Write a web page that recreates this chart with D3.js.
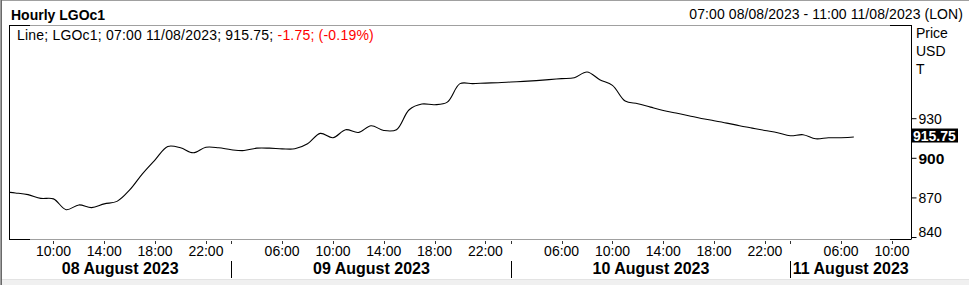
<!DOCTYPE html>
<html>
<head>
<meta charset="utf-8">
<script src="https://cdn.jsdelivr.net/npm/d3@7/dist/d3.min.js"></script>
<style>
  html, body { margin: 0; padding: 0; background: #fff; }
  svg { display: block; }
  text { font-family: "Liberation Sans", Arial, sans-serif; }
</style>
</head>
<body>
<svg id="chart" width="969" height="285"></svg>
<script>
// ---------- data ----------
const title = "Hourly LGOc1";
const rangeLabel = "07:00 08/08/2023 - 11:00 11/08/2023 (LON)";
const legendMain = "Line; LGOc1; 07:00 11/08/2023; 915.75; ";
const legendChange = "-1.75; (-0.19%)";
const unitLabels = ["Price", "USD", "T"];
const lastValue = 915.75;

// trading sessions shown on the axis: day label, first hour, last hour
const sessionDays = ["08 August 2023", "09 August 2023", "10 August 2023", "11 August 2023"];
const sessionDayKeys = ["08/08", "09/08", "10/08", "11/08"];
const sessionFirstHour = [7, 2, 2, 2];
const sessionLastHour = [23, 23, 23, 11];

// hourly price series (time stamp, value)
const priceTimes = [
  "08/08 06:00","08/08 07:00","08/08 08:00","08/08 09:00","08/08 10:00","08/08 11:00","08/08 12:00","08/08 13:00","08/08 14:00",
  "08/08 15:00","08/08 16:00","08/08 17:00","08/08 18:00","08/08 19:00","08/08 20:00","08/08 21:00","08/08 22:00","08/08 23:00",
  "09/08 02:00","09/08 03:00","09/08 04:00","09/08 05:00","09/08 06:00","09/08 07:00","09/08 08:00","09/08 09:00","09/08 10:00",
  "09/08 11:00","09/08 12:00","09/08 13:00","09/08 14:00","09/08 15:00","09/08 16:00","09/08 17:00","09/08 18:00","09/08 19:00",
  "09/08 20:00","09/08 21:00","09/08 22:00","09/08 23:00",
  "10/08 02:00","10/08 03:00","10/08 04:00","10/08 05:00","10/08 06:00","10/08 07:00","10/08 08:00","10/08 09:00","10/08 10:00",
  "10/08 11:00","10/08 12:00","10/08 13:00","10/08 14:00","10/08 15:00","10/08 16:00","10/08 17:00","10/08 18:00","10/08 19:00",
  "10/08 20:00","10/08 21:00","10/08 22:00","10/08 23:00",
  "11/08 02:00","11/08 03:00","11/08 04:00","11/08 05:00","11/08 06:00","11/08 07:00"
];
const priceValues = [
  874.4, 873.4, 872.1, 869.3, 868.9, 860.7, 864.3, 862.3, 865.1,
  867.0, 875.7, 887.9, 898.5, 908.6, 907.6, 903.8, 908.0, 907.6,
  906.1, 905.5, 907.3, 907.3, 906.8, 906.8, 910.6, 918.5, 915.2,
  921.3, 919.2, 924.3, 920.7, 921.3, 936.4, 940.7, 940.2, 942.2,
  956.2, 956.2, 956.6, 956.9,
  957.4, 957.9, 958.5, 959.2, 960.0, 960.7, 965.0, 959.2, 954.9,
  943.0, 941.0, 938.4, 935.9, 933.9, 931.9, 929.8, 928.1, 926.3,
  924.3, 922.5, 920.7, 919.0,
  916.7, 917.5, 914.4, 915.2, 915.2, 915.75
];

// axis tick labels
const hourTicks = ["10:00","14:00","18:00","22:00","06:00","10:00","14:00","18:00","22:00",
                   "06:00","10:00","14:00","18:00","22:00","06:00","10:00"];
const hourTickDays = ["08/08","08/08","08/08","08/08","09/08","09/08","09/08","09/08","09/08",
                      "10/08","10/08","10/08","10/08","10/08","11/08","11/08"];
const yTicks = [840, 870, 900, 930];
const yBoldTick = 900;
const yDomain = [838.5, 1000.6];

// ---------- slot index (only trading hours occupy the axis) ----------
const slotKeys = [];
sessionDayKeys.forEach((d, i) => {
  for (let h = sessionFirstHour[i]; h <= sessionLastHour[i]; h++) {
    slotKeys.push(d + " " + String(h).padStart(2, "0") + ":00");
  }
});
function slotOf(key) {
  const i = slotKeys.indexOf(key);
  if (i >= 0) return i;
  // stamp before the first slot (previous bar)
  const [d, t] = key.split(" ");
  const h = +t.slice(0, 2);
  const di = sessionDayKeys.indexOf(d);
  const firstIdx = slotKeys.indexOf(d + " " + String(sessionFirstHour[di]).padStart(2, "0") + ":00");
  return firstIdx - (sessionFirstHour[di] - h);
}

// ---------- layout ----------
const W = 969, H = 285;
const plot = { left: 9, right: 911, top: 25, bottom: 239 };
const svg = d3.select("#chart");

const x = d3.scaleLinear().domain([-0.5, slotKeys.length - 0.5]).range([plot.left, plot.right]);
const y = d3.scaleLinear().domain(yDomain).range([plot.bottom, plot.top]);

// outer frame
svg.append("rect").attr("x", 0).attr("y", 0).attr("width", W).attr("height", H).attr("fill", "#fff");
svg.append("rect").attr("x", 0).attr("y", 279).attr("width", W).attr("height", 6).attr("fill", "#f0f0f0");
svg.append("line").attr("x1", 0).attr("x2", W).attr("y1", 279.5).attr("y2", 279.5).attr("stroke", "#e3e3e3");
svg.append("line").attr("x1", 0).attr("x2", W).attr("y1", 0.5).attr("y2", 0.5).attr("stroke", "#a0a0a0");
svg.append("line").attr("x1", 0.5).attr("x2", 0.5).attr("y1", 0).attr("y2", H).attr("stroke", "#a0a0a0");
svg.append("line").attr("x1", 1.5).attr("x2", 1.5).attr("y1", 0).attr("y2", H).attr("stroke", "#696969");

// header
svg.append("text").attr("x", 11).attr("y", 20).attr("font-size", 14).attr("font-weight", "bold")
  .attr("fill", "#000").text(title);
svg.append("text").attr("x", 963).attr("y", 19).attr("font-size", 14).attr("text-anchor", "end")
  .attr("letter-spacing", 0.08).attr("fill", "#000").text(rangeLabel);

// plot frame
const frame = svg.append("g");
frame.append("line").attr("x1", plot.left).attr("x2", plot.right).attr("y1", plot.top + 0.5).attr("y2", plot.top + 0.5).attr("stroke", "#a0a0a0");
frame.append("line").attr("x1", plot.left).attr("x2", plot.right).attr("y1", plot.bottom + 0.5).attr("y2", plot.bottom + 0.5).attr("stroke", "#a0a0a0");
frame.append("line").attr("x1", plot.left + 0.5).attr("x2", plot.left + 0.5).attr("y1", plot.top).attr("y2", plot.bottom + 1).attr("stroke", "#000");
[[plot.left, plot.left + 21], [plot.right - 21, plot.right]].forEach(([a, b]) => {
  [plot.top + 0.5, plot.bottom + 0.5].forEach(yy => {
    frame.append("line").attr("x1", a).attr("x2", b).attr("y1", yy).attr("y2", yy).attr("stroke", "#000");
  });
});

// clip + line
svg.append("clipPath").attr("id", "clip").append("rect")
  .attr("x", plot.left + 1).attr("y", plot.top + 1)
  .attr("width", plot.right - plot.left - 1).attr("height", plot.bottom - plot.top - 1);

const series = priceTimes.map((t, i) => ({ s: slotOf(t), v: priceValues[i] }));
const lineGen = d3.line().x(d => x(d.s)).y(d => y(d.v)).curve(d3.curveCatmullRom.alpha(0.5));
svg.append("path").datum(series).attr("clip-path", "url(#clip)")
  .attr("d", lineGen).attr("fill", "none").attr("stroke", "#000").attr("stroke-width", 1.1);

// legend
const leg = svg.append("text").attr("x", 17).attr("y", 40).attr("font-size", 14).attr("letter-spacing", 0.2);
leg.append("tspan").attr("fill", "#000").text(legendMain);
leg.append("tspan").attr("fill", "#ff0000").text(legendChange);

// right axis
const yAxis = d3.axisRight(y).tickValues(yTicks).tickSize(5).tickPadding(2).tickFormat(d3.format("d"));
const ya = svg.append("g").attr("transform", `translate(${plot.right + 0.5},0)`).call(yAxis);
ya.select(".domain").attr("d", `M0,${plot.top}V${plot.bottom + 0.5}`).attr("stroke", "#000");
ya.selectAll(".tick line").attr("stroke", "#000");
ya.selectAll(".tick text")
  .attr("font-family", "Liberation Sans, Arial, sans-serif")
  .attr("font-size", d => d === yBoldTick ? 15.5 : 14)
  .attr("font-weight", d => d === yBoldTick ? "bold" : "normal")
  .attr("fill", "#000")
  .attr("dy", "0.36em")
  .attr("y", d => Math.min(0, (plot.bottom - 8) - y(d)));

unitLabels.forEach((u, i) => {
  svg.append("text").attr("x", 916).attr("y", 38 + i * 17.8).attr("font-size", 14).attr("fill", "#000").text(u);
});

// last value box
const ly = y(lastValue);
svg.append("rect").attr("x", plot.right).attr("y", ly - 8.5).attr("width", 47).attr("height", 14).attr("fill", "#000");
svg.append("text").attr("x", plot.right + 2).attr("y", ly + 3.5).attr("font-size", 14).attr("font-weight", "bold")
  .attr("fill", "#fff").text(d3.format(".2f")(lastValue));

// bottom axis: hour ticks
const tickSlots = hourTicks.map((t, i) => slotKeys.indexOf(hourTickDays[i] + " " + t));
const xa = svg.append("g");
tickSlots.forEach((s, i) => {
  const px = Math.round(x(s)) + 0.5;
  xa.append("line").attr("x1", px).attr("x2", px).attr("y1", 241).attr("y2", 244).attr("stroke", "#333");
  xa.append("text").attr("x", x(s)).attr("y", 256).attr("font-size", 14).attr("text-anchor", "middle")
    .attr("fill", "#000").text(hourTicks[i]);
});

// day separators and date labels
const dayStarts = sessionDayKeys.map((d, i) => slotKeys.indexOf(d + " " + String(sessionFirstHour[i]).padStart(2, "0") + ":00"));
const dayBounds = dayStarts.map((s, i) => i === 0 ? plot.left : Math.round(x(s)) + 0.5);
dayBounds.forEach((bx, i) => {
  if (i > 0) {
    xa.append("line").attr("x1", bx).attr("x2", bx).attr("y1", 241).attr("y2", 244).attr("stroke", "#333");
    xa.append("line").attr("x1", bx).attr("x2", bx).attr("y1", 261).attr("y2", 278).attr("stroke", "#000");
  }
  const end = i < dayBounds.length - 1 ? dayBounds[i + 1] : plot.right;
  xa.append("text").attr("x", (bx + end) / 2).attr("y", 274).attr("font-size", 16).attr("font-weight", "bold")
    .attr("text-anchor", "middle").attr("fill", "#000").text(sessionDays[i]);
});
</script>
</body>
</html>
